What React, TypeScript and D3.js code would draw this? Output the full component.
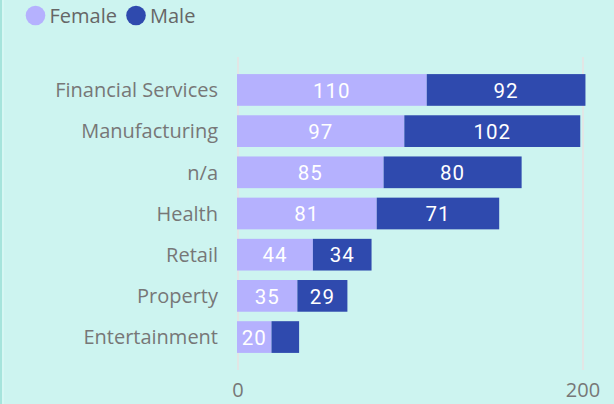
import React from "react";
import * as d3 from "d3";

const categories = ["Financial Services", "Manufacturing", "n/a", "Health", "Retail", "Property", "Entertainment"];
const femaleValues = [110, 97, 85, 81, 44, 35, 20];
const maleValues = [92, 102, 80, 71, 34, 29, 16];
const xTicks = [0, 200];
const seriesNames = ["Female", "Male"];
const seriesColors = ["#B5B1FE", "#2F4AAE"];

const W = 614;
const H = 404;

export default function App() {
  const x = d3.scaleLinear().domain([0, 200]).range([237, 582]);
  const y = d3
    .scaleBand<string>()
    .domain(categories)
    .range([57, 370])
    .paddingInner(0.23)
    .paddingOuter(0.415);

  const rows = categories.map((c, i) => ({ c, f: femaleValues[i], m: maleValues[i] }));
  const labelFont = "Roboto, 'DejaVu Sans Condensed', sans-serif";
  const textFont = "'Open Sans', 'Noto Sans', sans-serif";

  const segLabel = (x0: number, x1: number, v: number, yc: number, key: string) => {
    const w = x1 - x0;
    if (w < 30) return null;
    return (
      <text
        key={key}
        x={(x0 + x1) / 2}
        y={yc}
        dy="0.38em"
        textAnchor="middle"
        fill="#ffffff"
        fontFamily={labelFont}
        fontSize={20.5}
        letterSpacing="1"
      >
        {v}
      </text>
    );
  };

  return (
    <svg
      width={W}
      height={H}
      style={{ position: "fixed", left: 0, top: 0, display: "block" }}
    >
      <rect x={0} y={0} width={W} height={H} fill="#CDF4F0" />
      <rect x={0} y={0} width={2} height={H} fill="#A6E4DC" />
      <rect x={2} y={0} width={2} height={H} fill="#D6F7F3" />

      {/* legend */}
      {seriesNames.map((s, i) => {
        const cx = i === 0 ? 35.5 : 136;
        return (
          <g key={s}>
            <circle cx={cx} cy={15.5} r={9.8} fill={seriesColors[i]} />
            <text
              x={cx + 14}
              y={16}
              dy="0.36em"
              fill="#666666"
              fontFamily={textFont}
              fontSize={20}
            >
              {s}
            </text>
          </g>
        );
      })}

      {/* gridlines */}
      {xTicks.map((t) => (
        <rect key={t} x={x(t)} y={57} width={2} height={313} fill="#E2E6E5" />
      ))}

      {/* bars */}
      {rows.map((r) => {
        const yt = y(r.c)!;
        const bh = y.bandwidth();
        const yc = yt + bh / 2;
        const x0 = x(0);
        const x1 = x(r.f);
        const x2 = x(r.f + r.m);
        return (
          <g key={r.c}>
            <rect x={x0} y={yt} width={x1 - x0} height={bh} fill={seriesColors[0]} />
            <rect x={x1} y={yt} width={x2 - x1} height={bh} fill={seriesColors[1]} />
            {segLabel(x0, x1, r.f, yc, "f")}
            {segLabel(x1, x2, r.m, yc, "m")}
            <text
              x={218}
              y={yc}
              dy="0.36em"
              textAnchor="end"
              fill="#777777"
              fontFamily={textFont}
              fontSize={20}
            >
              {r.c}
            </text>
          </g>
        );
      })}

      {/* x tick labels */}
      {xTicks.map((t) => (
        <text
          key={t}
          x={x(t) + 1}
          y={397}
          textAnchor="middle"
          fill="#777777"
          fontFamily={textFont}
          fontSize={20}
        >
          {t}
        </text>
      ))}
    </svg>
  );
}
